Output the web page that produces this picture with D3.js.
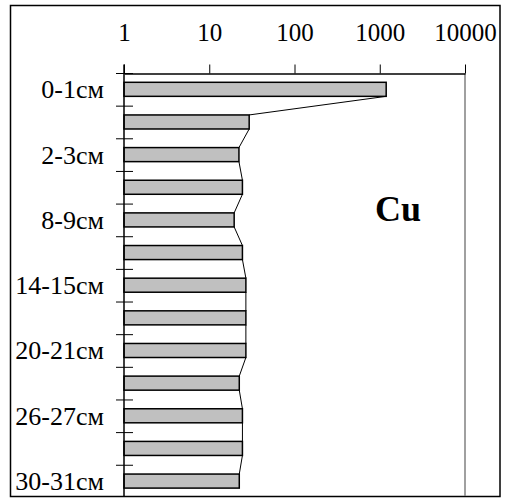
<!DOCTYPE html>
<html>
<head>
<meta charset="utf-8">
<script src="https://cdn.jsdelivr.net/npm/d3@7"></script>
<style>
  html, body { margin: 0; padding: 0; background: #fff; }
  svg { display: block; }
  text { font-family: "Liberation Serif", "Times New Roman", serif; fill: #000; }
</style>
</head>
<body>
<svg id="chart" width="505" height="498"></svg>
<script>
// Depth intervals of the core (top to bottom)
const depths = ["0-1см", "1-2см", "2-3см", "5-6см", "8-9см", "11-12см", "14-15см",
                "17-18см", "20-21см", "23-24см", "26-27см", "28-29см", "30-31см"];
// Only every other interval gets a printed label
const depthLabels = ["0-1см", "", "2-3см", "", "8-9см", "", "14-15см",
                     "", "20-21см", "", "26-27см", "", "30-31см"];
// Cu content per interval
const cuValues = [1190, 29.4, 22.3, 24.5, 19.6, 24.5, 26.9, 26.9, 26.9, 22.5, 24.5, 24.5, 22.5];
// Log-axis ticks
const xTicks = [1, 10, 100, 1000, 10000];
const elementName = "Cu";

const svg = d3.select("#chart");
const plot = { left: 124, right: 465, top: 73.5, bottom: 497.9 };

const x = d3.scaleLog().domain([1, 10000]).range([plot.left, plot.right]);
const yBand = d3.scaleBand().domain(depths).range([plot.top, plot.bottom]).padding(0);
const yBar = d3.scaleBand().domain(depths).range([plot.top, plot.bottom])
  .paddingInner(0.57).paddingOuter(0.285);

// outer frame
svg.append("rect")
  .attr("x", 10.5).attr("y", 5.5).attr("width", 489.5).attr("height", 491)
  .attr("fill", "#fff").attr("stroke", "#000").attr("stroke-width", 1.5);

// right edge of plot area
svg.append("line")
  .attr("x1", plot.right).attr("x2", plot.right)
  .attr("y1", plot.top).attr("y2", 496)
  .attr("stroke", "#808080").attr("stroke-width", 1.5);

// bars
svg.append("g").selectAll("rect")
  .data(cuValues)
  .join("rect")
  .attr("x", x(1))
  .attr("y", (d, i) => yBar(depths[i]) - 0.5)
  .attr("width", d => x(d) - x(1))
  .attr("height", yBar.bandwidth())
  .attr("fill", "#c0c0c0")
  .attr("stroke", "#000")
  .attr("stroke-width", 1.5);

// series lines joining consecutive bar ends
const links = cuValues.slice(0, -1).map((v, i) => ({ a: v, b: cuValues[i + 1], i }));
svg.append("g").selectAll("line")
  .data(links)
  .join("line")
  .attr("x1", d => x(d.a))
  .attr("y1", d => yBar(depths[d.i]) - 0.5 + yBar.bandwidth())
  .attr("x2", d => x(d.b))
  .attr("y2", d => yBar(depths[d.i + 1]) - 0.5)
  .attr("stroke", "#000").attr("stroke-width", 1);

// top log axis
const xAxis = d3.axisTop(x).tickValues(xTicks).tickFormat(d3.format("d"))
  .tickSizeInner(9).tickSizeOuter(0).tickPadding(24);
const gx = svg.append("g").attr("transform", `translate(0,${plot.top})`).call(xAxis);
gx.select(".domain").attr("stroke", "#000").attr("stroke-width", 1.5);
gx.selectAll(".tick line").attr("stroke", "#000").attr("stroke-width", 1);
gx.selectAll(".tick text")
  .attr("font-family", "'Liberation Serif', 'Times New Roman', serif")
  .attr("font-size", 25).attr("fill", "#000");

// left category axis with crossing tick marks at band boundaries
svg.append("line")
  .attr("x1", plot.left).attr("x2", plot.left)
  .attr("y1", plot.top - 9).attr("y2", 496)
  .attr("stroke", "#000").attr("stroke-width", 1.5);
svg.append("g").selectAll("line")
  .data(depths)
  .join("line")
  .attr("x1", plot.left - 8).attr("x2", plot.left + 9)
  .attr("y1", d => yBand(d)).attr("y2", d => yBand(d))
  .attr("stroke", "#000").attr("stroke-width", 1);

svg.append("g").selectAll("text")
  .data(depths)
  .join("text")
  .attr("x", 104)
  .attr("y", d => yBand(d) + yBand.bandwidth() / 2 + 8.5)
  .attr("text-anchor", "end")
  .attr("font-size", 26)
  .text((d, i) => depthLabels[i]);

// element name
svg.append("text")
  .attr("x", 398).attr("y", 221)
  .attr("text-anchor", "middle")
  .attr("font-size", 36)
  .attr("font-weight", "bold")
  .text(elementName);
</script>
</body>
</html>
